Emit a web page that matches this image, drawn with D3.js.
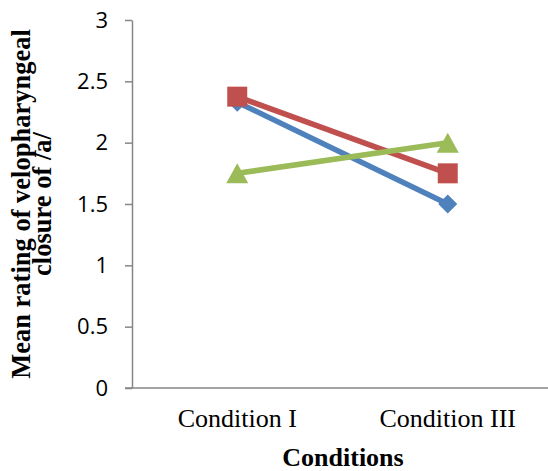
<!DOCTYPE html>
<html>
<head>
<meta charset="utf-8">
<script src="https://cdn.jsdelivr.net/npm/d3@7"></script>
<style>
  html, body { margin: 0; padding: 0; background: #fff; }
  svg { display: block; }
</style>
</head>
<body>
<svg id="chart" width="548" height="471"></svg>
<script>
// Categories, tick values and series for the velopharyngeal closure ratings
const conditions = ["Condition I", "Condition III"];
const yTicks = [0, 0.5, 1, 1.5, 2, 2.5, 3];
const seriesBlue = [2.33, 1.5];
const seriesRed = [2.375, 1.75];
const seriesGreen = [1.75, 2.0];

const series = [
  { values: seriesBlue, color: "#4F81BD", marker: "diamond" },
  { values: seriesRed, color: "#C0504D", marker: "square" },
  { values: seriesGreen, color: "#9BBB59", marker: "triangle" }
];

const svg = d3.select("#chart");
const plot = { left: 132, right: 553, top: 20, bottom: 388 };

const x = d3.scaleBand().domain(conditions).range([plot.left, plot.right]);
const y = d3.scaleLinear().domain([0, 3]).range([plot.bottom, plot.top]);
const cx = c => x(c) + x.bandwidth() / 2;

const axisColor = "#868686";

// Y axis with outward ticks
const yAxis = svg.append("g")
  .attr("transform", `translate(${plot.left},0)`)
  .attr("font-size", 22)
  .attr("font-family", "'Open Sans', 'Liberation Sans', sans-serif")
  .call(d3.axisLeft(y).tickValues(yTicks).tickSize(7).tickSizeOuter(0).tickPadding(17)
    .tickFormat(d => String(d)));
yAxis.attr("font-size", 22).attr("font-family", "'Open Sans', 'Liberation Sans', sans-serif");
yAxis.select(".domain").attr("stroke", axisColor).attr("stroke-width", 1.5);
yAxis.selectAll(".tick line").attr("stroke", axisColor).attr("stroke-width", 1.5);
yAxis.selectAll(".tick text")
  .attr("fill", "#000")
  .style("font-family", "'Open Sans', 'Liberation Sans', sans-serif")
  .style("font-size", "22px");

// X axis line and category labels
const xAxis = svg.append("g")
  .attr("transform", `translate(0,${plot.bottom})`)
  .call(d3.axisBottom(x).tickSize(0).tickSizeOuter(0).tickPadding(21));
xAxis.select(".domain").attr("stroke", axisColor).attr("stroke-width", 1.5)
  .attr("d", `M${plot.left - 7},0H${plot.right}`);
xAxis.selectAll(".tick text")
  .attr("fill", "#000")
  .style("font-family", "'Liberation Serif', 'Times New Roman', serif")
  .style("font-size", "26px");

// Series lines
const line = d3.line().x((d, i) => cx(conditions[i])).y(d => y(d));

const diamond = s => `M0,${-s}L${s},0L0,${s}L${-s},0Z`;
const square = s => `M${-s},${-s}H${s}V${s}H${-s}Z`;
const triangle = s => `M0,${-s}L${s * 1.1},${s}H${-s * 1.1}Z`;

series.forEach(s => {
  svg.append("path")
    .datum(s.values)
    .attr("d", line)
    .attr("fill", "none")
    .attr("stroke", s.color)
    .attr("stroke-width", 5.5)
    .attr("stroke-linejoin", "round");

  const shape = s.marker === "diamond" ? diamond(9.5)
    : s.marker === "square" ? square(10)
    : triangle(10);

  svg.append("g").selectAll("path")
    .data(s.values)
    .join("path")
    .attr("transform", (d, i) => `translate(${cx(conditions[i])},${y(d)})`)
    .attr("d", shape)
    .attr("fill", s.color);
});

// Axis titles
svg.append("text")
  .attr("x", 343)
  .attr("y", 466)
  .attr("text-anchor", "middle")
  .style("font-family", "'Liberation Serif', 'Times New Roman', serif")
  .style("font-size", "26px")
  .style("font-weight", "bold")
  .text("Conditions");

const yTitle = svg.append("g")
  .attr("transform", `translate(0,${(plot.top + plot.bottom) / 2}) rotate(-90)`)
  .style("font-family", "'Liberation Serif', 'Times New Roman', serif")
  .style("font-size", "26.5px")
  .style("font-weight", "bold")
  .attr("text-anchor", "middle");
yTitle.append("text").attr("x", 0).attr("y", 30).text("Mean rating of velopharyngeal");
yTitle.append("text").attr("x", 0).attr("y", 51).text("closure of /a/");
</script>
</body>
</html>
